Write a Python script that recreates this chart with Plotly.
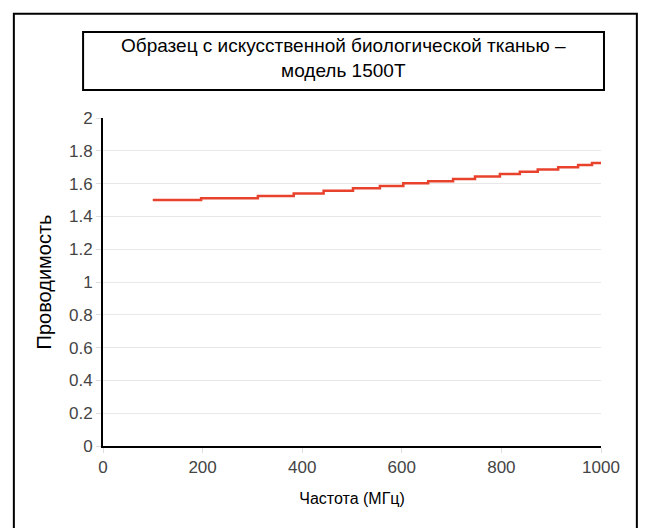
import plotly.graph_objects as go

# step points (frequency in MHz, conductivity)
freq = [100, 197, 311, 383, 443, 502, 556, 603, 653, 703, 747, 797, 837, 873, 914, 954, 982, 1000]
cond = [1.50, 1.511, 1.525, 1.539, 1.556, 1.571, 1.586, 1.602, 1.615, 1.628,
        1.643, 1.658, 1.672, 1.686, 1.700, 1.713, 1.725, 1.732]

x_ticks = [0, 200, 400, 600, 800, 1000]
y_ticks = [0, 0.2, 0.4, 0.6, 0.8, 1, 1.2, 1.4, 1.6, 1.8, 2]

title_text = "Образец с искусственной биологической тканью –<br>модель 1500T"

font = "Liberation Sans, Arial, sans-serif"

trace = go.Scatter(
    x=freq,
    y=cond,
    mode="lines",
    line=dict(color="#e8412c", width=2.5, shape="hv"),
    showlegend=False,
    hoverinfo="x+y",
)

# page has an 8px body margin, so the figure is 8px smaller than the window
layout = go.Layout(
    width=641,
    height=520,
    margin=dict(l=95, r=48, t=110, b=82),
    paper_bgcolor="white",
    plot_bgcolor="white",
    font=dict(family=font, color="#333333", size=17),
    xaxis=dict(
        range=[0, 1000],
        tickvals=x_ticks,
        showgrid=False,
        zeroline=False,
        showline=True,
        linecolor="black",
        linewidth=2,
        ticks="outside",
        ticklen=5,
        tickcolor="#dddddd",
        tickfont=dict(size=17, color="#444444"),
        title=dict(text="Частота (МГц)", font=dict(size=16, color="black"), standoff=16),
    ),
    yaxis=dict(
        range=[0, 2],
        tickvals=y_ticks,
        showgrid=True,
        gridcolor="#e8e8e8",
        zeroline=False,
        showline=True,
        linecolor="black",
        linewidth=2,
        ticks="outside",
        ticklen=5,
        tickcolor="#dddddd",
        tickfont=dict(size=17, color="#444444"),
        title=dict(text="Проводимость", font=dict(size=20, color="black"), standoff=12),
    ),
    shapes=[
        # outer frame
        dict(type="rect", xref="paper", yref="paper",
             x0=-0.179, x1=1.072, y0=-0.26, y1=1.318,
             line=dict(color="black", width=2)),
        # title box
        dict(type="rect", xref="paper", yref="paper",
             x0=-0.040, x1=1.006, y0=1.085, y1=1.262,
             line=dict(color="black", width=2)),
    ],
    annotations=[
        dict(text=title_text, xref="paper", yref="paper", x=0.483, y=1.184,
             showarrow=False, font=dict(size=19, color="black", family=font),
             xanchor="center", yanchor="middle"),
    ],
)

fig = go.Figure(data=[trace], layout=layout)
fig.write_html("out.html")
